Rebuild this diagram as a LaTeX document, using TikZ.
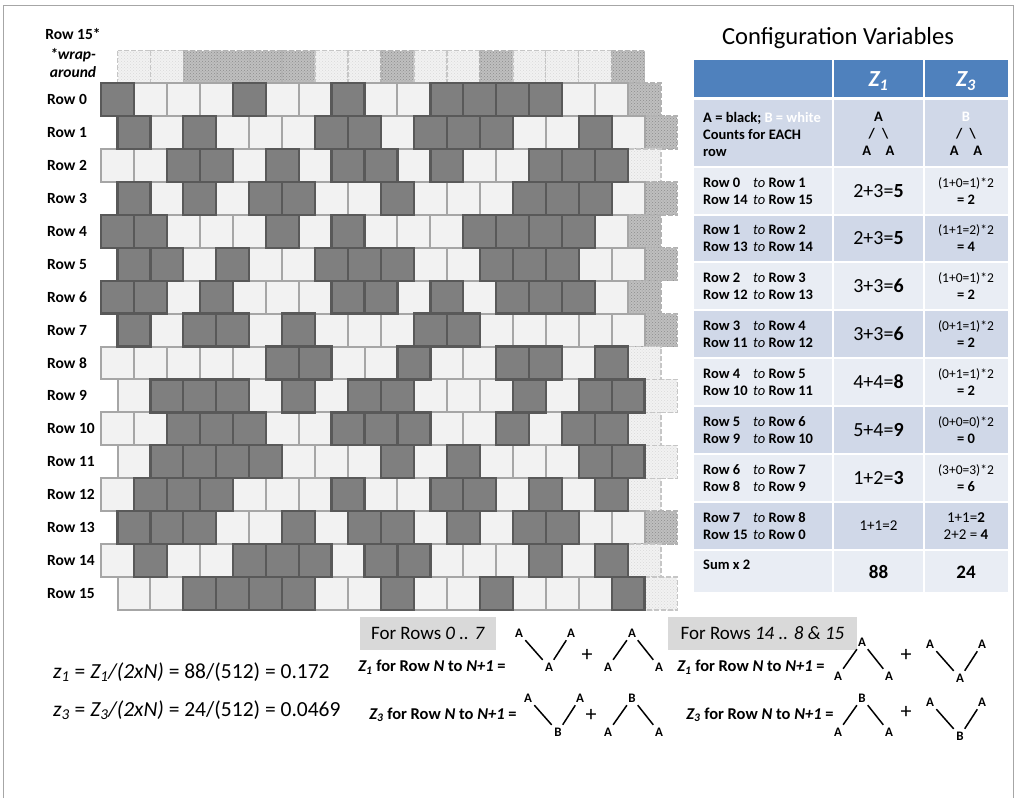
\documentclass[tikz,border=0pt]{standalone}
\usepackage{fontspec}
\setmainfont{Carlito}
\usetikzlibrary{patterns, positioning}

\definecolor{brickblack}{HTML}{7F7F7F}
\definecolor{brickblackedge}{HTML}{595959}
\definecolor{brickwhite}{HTML}{F2F2F2}
\definecolor{brickwhiteedge}{HTML}{A6A6A6}
\definecolor{tablehead}{HTML}{4F81BD}
\definecolor{tabledark}{HTML}{D0D8E8}
\definecolor{tablelight}{HTML}{E9EDF4}
\definecolor{labelbox}{HTML}{D9D9D9}

\newcommand{\rto}{\textmd{\itshape to}}
\newcommand{\rowpair}[2]{\makebox[50pt][l]{Row #1}\rto\ Row #2}

% row number / cells (1 = black, 0 = white)
\newcommand{\brickrows}{%
  0/{1,0,0,0,1,0,0,1,0,0,1,1,1,1,0,0},
  1/{1,0,1,0,0,0,1,1,0,1,1,1,0,0,1,0},
  2/{0,0,1,1,0,1,0,1,1,0,1,0,0,1,1,1},
  3/{1,0,1,0,1,1,0,0,1,0,0,0,1,1,1,0},
  4/{1,1,0,0,0,1,0,1,0,0,0,1,1,1,1,0},
  5/{1,1,0,1,0,0,1,1,1,0,0,1,1,1,0,0},
  6/{1,1,0,1,0,0,0,1,1,0,1,0,1,1,1,0},
  7/{1,0,1,1,0,1,0,0,0,1,1,0,0,0,0,0},
  8/{0,0,0,0,0,1,1,0,0,1,0,0,1,1,0,1},
  9/{0,1,1,1,0,1,0,1,1,0,0,0,1,0,1,1},
  10/{0,0,1,1,1,0,0,1,1,1,0,0,1,0,1,1},
  11/{0,1,1,1,1,0,0,0,1,0,1,0,0,0,1,1},
  12/{0,1,1,1,0,0,0,1,0,0,1,1,0,1,0,1},
  13/{1,1,1,0,0,1,0,1,1,0,1,0,1,1,0,0},
  14/{0,1,0,0,1,1,1,0,1,1,0,0,0,1,0,1},
  15/{0,0,1,1,1,1,0,0,1,0,0,1,0,0,0,1}}

\begin{document}
\begin{tikzpicture}[
    x=1pt, y=-1pt,
    every node/.style={inner sep=0pt},
    whitebrick/.style={fill=brickwhite, draw=brickwhiteedge, line width=2pt},
    blackbrick/.style={fill=brickblack, draw=brickblackedge, line width=2.2pt},
    wrapblack/.style={preaction={fill=gray!50}, pattern=crosshatch dots, pattern color=gray!90, draw=gray!60, line width=1.5pt, dash pattern=on 5pt off 2pt},
    wrapwhite/.style={preaction={fill=gray!10}, pattern=crosshatch dots, pattern color=gray!30, draw=gray!45, line width=1.5pt, dash pattern=on 5pt off 2pt},
    rowlabel/.style={font=\fontsize{15.5}{18}\selectfont\bfseries, anchor=west},
    wraplabel/.style={font=\fontsize{15.5}{18}\selectfont\bfseries\itshape},
    titletext/.style={font=\fontsize{24.6}{28}\selectfont},
    tablegrid/.style={draw=white, line width=2pt},
    headtext/.style={font=\fontsize{23}{26}\selectfont\bfseries\itshape, text=white},
    pairtext/.style={font=\fontsize{14.5}{17}\selectfont\bfseries, align=left, anchor=west},
    zonetext/.style={font=\fontsize{20}{24}\selectfont},
    zthreetext/.style={font=\fontsize{13.5}{17}\selectfont, align=center},
    treetext/.style={font=\fontsize{14.5}{17}\selectfont\bfseries, align=center},
    sumtext/.style={font=\fontsize{19}{22}\selectfont\bfseries},
    forbox/.style={fill=labelbox, minimum width=136pt, minimum height=33pt, font=\fontsize{19}{22}\selectfont},
    bigformula/.style={font=\fontsize{21.5}{24}\selectfont, anchor=west},
    rulelabel/.style={font=\fontsize{16.5}{18}\selectfont\bfseries},
    treeletter/.style={font=\fontsize{13}{15}\selectfont\bfseries, inner sep=2pt},
    treeline/.style={line width=1.5pt, shorten <=1pt, shorten >=1pt},
    plussign/.style={font=\fontsize{22}{24}\selectfont}
]
    \useasboundingbox (0,0) rectangle (1017,798);
    \draw[gray!70, line width=1pt] (3,798) -- (3,5) -- (1013,5) -- (1013,798);

    % row 15 copied above row 0
    \foreach \b [count=\c from 0] in {0,0,1,1,1,1,0,0,1,0,0,1,0,0,0,1} {
        \ifnum\b=1 \path[wrapblack] (117.5+32.94*\c,50.5) rectangle ++(32.94,32.5);
        \else \path[wrapwhite] (117.5+32.94*\c,50.5) rectangle ++(32.94,32.5); \fi
    }

    % white bricks and wrap-around cells
    \foreach \r/\bits in \brickrows {
        \pgfmathsetmacro{\xo}{101+16.5*mod(\r,2)}
        \pgfmathsetmacro{\yo}{83+32.94*\r}
        \foreach \b [count=\c from 0] in \bits {
            \ifnum\b=0 \path[whitebrick] (\xo+32.94*\c,\yo) rectangle ++(32.94,32.94); \fi
            \ifnum\c=0
                \ifnum\b=1 \path[wrapblack] (\xo+527.04,\yo) rectangle ++(32.94,32.94);
                \else \path[wrapwhite] (\xo+527.04,\yo) rectangle ++(32.94,32.94); \fi
            \fi
        }
    }
    % black bricks on top
    \foreach \r/\bits in \brickrows {
        \pgfmathsetmacro{\xo}{101+16.5*mod(\r,2)}
        \pgfmathsetmacro{\yo}{83+32.94*\r}
        \foreach \b [count=\c from 0] in \bits {
            \ifnum\b=1 \path[blackbrick] (\xo+32.94*\c,\yo) rectangle ++(32.94,32.94); \fi
        }
    }

    % row labels
    \node[rowlabel, anchor=center] (rowstar) at (73,34) {Row 15*};
    \node[wraplabel] (wrapa) at (73,55) {*wrap-};
    \node[wraplabel] (wrapb) at (73,72) {around};
    \foreach \r in {0,...,15}
        \node[rowlabel] (rowlab\r) at (47,99.5+32.94*\r) {Row \r};

    % table
    \node[titletext] (configtitle) at (838,38) {Configuration Variables};
    \fill[tablehead] (694,60) rectangle (1008,98);
    \foreach \top/\bot/\shade in {98/167/tabledark, 167/215/tablelight, 215/262/tabledark,
        262/310/tablelight, 310/358/tabledark, 358/406/tablelight, 406/454/tabledark,
        454/502/tablelight, 502/550/tabledark, 550/592/tablelight}
        \fill[\shade] (694,\top) rectangle (1008,\bot);
    \draw[tablegrid, line width=3pt] (694,98) -- (1008,98);
    \foreach \y in {167,215,262,310,358,406,454,502,550}
        \draw[tablegrid] (694,\y) -- (1008,\y);
    \draw[tablegrid] (833,60) -- (833,592);
    \draw[tablegrid] (924,60) -- (924,592);

    \node[headtext] (headone) at (878.5,81) {Z\textsubscript{1}};
    \node[headtext] (headthree) at (966,81) {Z\textsubscript{3}};

    \node[pairtext] (legend) at (703,134) {A = black; \textcolor{white}{B = white}\\Counts for EACH\\row};
    \node[treetext] (treeone) at (878.5,134) {A\\/\enspace\textbackslash\\A\quad A};
    \node[treetext] (treethree) at (966,134) {\textcolor{white}{B}\\/\enspace\textbackslash\\A\quad A};

    \node[pairtext] (pairzero) at (703,191) {\rowpair{0}{1}\\\rowpair{14}{15}};
    \node[zonetext] (zonezero) at (878.5,191) {2+3=\textbf{5}};
    \node[zthreetext] (zthreezero) at (966,191) {(1+0=1)*2\\\textbf{\fontsize{14.5}{17}\selectfont = 2}};

    \node[pairtext] (pairone) at (703,238.5) {\rowpair{1}{2}\\\rowpair{13}{14}};
    \node[zonetext] (zoneone) at (878.5,238.5) {2+3=\textbf{5}};
    \node[zthreetext] (zthreeone) at (966,238.5) {(1+1=2)*2\\\textbf{\fontsize{14.5}{17}\selectfont = 4}};

    \node[pairtext] (pairtwo) at (703,286) {\rowpair{2}{3}\\\rowpair{12}{13}};
    \node[zonetext] (zonetwo) at (878.5,286) {3+3=\textbf{6}};
    \node[zthreetext] (zthreetwo) at (966,286) {(1+0=1)*2\\\textbf{\fontsize{14.5}{17}\selectfont = 2}};

    \node[pairtext] (pairthree) at (703,334) {\rowpair{3}{4}\\\rowpair{11}{12}};
    \node[zonetext] (zonethree) at (878.5,334) {3+3=\textbf{6}};
    \node[zthreetext] (zthreethree) at (966,334) {(0+1=1)*2\\\textbf{\fontsize{14.5}{17}\selectfont = 2}};

    \node[pairtext] (pairfour) at (703,382) {\rowpair{4}{5}\\\rowpair{10}{11}};
    \node[zonetext] (zonefour) at (878.5,382) {4+4=\textbf{8}};
    \node[zthreetext] (zthreefour) at (966,382) {(0+1=1)*2\\\textbf{\fontsize{14.5}{17}\selectfont = 2}};

    \node[pairtext] (pairfive) at (703,430) {\rowpair{5}{6}\\\rowpair{9}{10}};
    \node[zonetext] (zonefive) at (878.5,430) {5+4=\textbf{9}};
    \node[zthreetext] (zthreefive) at (966,430) {(0+0=0)*2\\\textbf{\fontsize{14.5}{17}\selectfont = 0}};

    \node[pairtext] (pairsix) at (703,478) {\rowpair{6}{7}\\\rowpair{8}{9}};
    \node[zonetext] (zonesix) at (878.5,478) {1+2=\textbf{3}};
    \node[zthreetext] (zthreesix) at (966,478) {(3+0=3)*2\\\textbf{\fontsize{14.5}{17}\selectfont = 6}};

    \node[pairtext] (pairseven) at (703,526) {\rowpair{7}{8}\\\rowpair{15}{0}};
    \node[zthreetext, font=\fontsize{15}{17}\selectfont] (zoneseven) at (878.5,526) {1+1=2};
    \node[zthreetext, font=\fontsize{15}{17}\selectfont] (zthreeseven) at (966,526) {1+1=\textbf{2}\\2+2 = \textbf{4}};

    \node[pairtext] (sumlabel) at (703,565) {Sum x 2};
    \node[sumtext] (sumone) at (878.5,572) {88};
    \node[sumtext] (sumthree) at (966,572) {24};

    % formulas below the bricks
    \node[forbox] (forlow) at (428,633.5) {For Rows \textit{0 .. 7}};
    \node[forbox, minimum width=189pt] (forhigh) at (762.5,633.5) {For Rows \textit{14 .. 8 \& 15}};
    \node[bigformula] (zsmallone) at (53,672) {\textit{z}\textsubscript{\textit{1}} = \textit{Z\textsubscript{1}/(2xN)} = 88/(512) = 0.172};
    \node[bigformula] (zsmallthree) at (53,710) {\textit{z}\textsubscript{\textit{3}} = \textit{Z\textsubscript{3}/(2xN)} = 24/(512) = 0.0469};
    \node[rulelabel] (ruleonelow) at (432,667) {\textit{Z\textsubscript{1}} for Row \textit{N} to \textit{N+1} =};
    \node[rulelabel] (rulethreelow) at (443,715) {\textit{Z\textsubscript{3}} for Row \textit{N} to \textit{N+1} =};
    \node[rulelabel] (ruleonehigh) at (751,667) {\textit{Z\textsubscript{1}} for Row \textit{N} to \textit{N+1} =};
    \node[rulelabel] (rulethreehigh) at (760,715) {\textit{Z\textsubscript{3}} for Row \textit{N} to \textit{N+1} =};

    \foreach \nm/\x/\y/\bl in {va/519/633/A, vb/528/698/B, vc/930/644/A, vd/930/702/B} {
        \node[treeletter] (\nm-l) at (\x,\y) {A};
        \node[treeletter] (\nm-r) at (\x+52,\y) {A};
        \node[treeletter] (\nm-b) at (\x+30,\y+34) {\bl};
        \draw[treeline] (\nm-l) -- (\nm-b);
        \draw[treeline] (\nm-b) -- (\nm-r);
    }
    \foreach \nm/\x/\y/\tp in {la/632/633/A, lb/632/698/B, lc/862/642/A, ld/862/698/B} {
        \node[treeletter] (\nm-t) at (\x,\y) {\tp};
        \node[treeletter] (\nm-l) at (\x-24,\y+34) {A};
        \node[treeletter] (\nm-r) at (\x+27,\y+34) {A};
        \draw[treeline] (\nm-l) -- (\nm-t);
        \draw[treeline] (\nm-t) -- (\nm-r);
    }
    \foreach \nm/\x/\y in {pa/587/655, pb/591/715, pc/906/655, pd/906/712}
        \node[plussign] (\nm) at (\x,\y) {+};
\end{tikzpicture}
\end{document}
